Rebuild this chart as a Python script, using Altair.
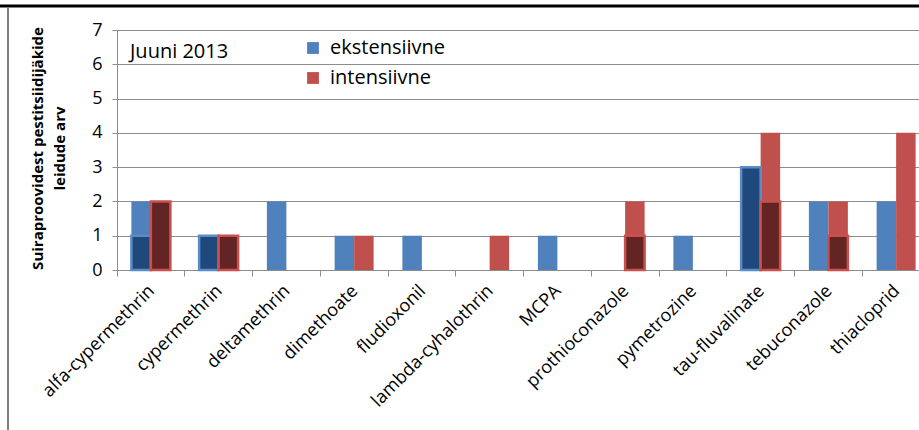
import altair as alt
import pandas as pd

categories = ["alfa-cypermethrin", "cypermethrin", "deltamethrin", "dimethoate", "fludioxonil",
              "lambda-cyhalothrin", "MCPA", "prothioconazole", "pymetrozine", "tau-fluvalinate",
              "tebuconazole", "thiacloprid"]
series = ["ekstensiivne", "intensiivne"]
ekstensiivne = [2, 1, 2, 1, 1, 0, 1, 0, 1, 3, 2, 2]
intensiivne = [2, 1, 0, 1, 0, 1, 0, 2, 0, 4, 2, 4]
# highlighted (dark) sub-counts
ekstensiivne_dark = [1, 1, 0, 0, 0, 0, 0, 0, 0, 3, 0, 0]
intensiivne_dark = [2, 1, 0, 0, 0, 0, 0, 1, 0, 2, 1, 0]

rows = []
for i, c in enumerate(categories):
    rows.append({"cat": c, "series": series[0], "value": ekstensiivne[i], "dark": ekstensiivne_dark[i]})
    rows.append({"cat": c, "series": series[1], "value": intensiivne[i], "dark": intensiivne_dark[i]})
df = pd.DataFrame(rows)
one = pd.DataFrame({"k": [0]})

FONT = "Open Sans"
GRID = "#8c8c8c"
YTITLE = ["Suiraproovidest pestitsiidijäkide", "leidude arv"]

x_axis = alt.Axis(labelAngle=-45, labelAlign="right", labelBaseline="middle",
                  labelFontSize=18, labelFont=FONT, labelColor="#000000",
                  labelPadding=12, labelOffset=1, bandPosition=0, tickSize=6,
                  tickColor=GRID, domainColor=GRID, grid=False, labelOverlap=False)
x_scale = alt.Scale(range=[0, 813], paddingInner=0, paddingOuter=0)
y_axis = alt.Axis(values=[0, 1, 2, 3, 4, 5, 6, 7], format="d", grid=True,
                  gridColor=GRID, gridWidth=1, domainColor=GRID, tickColor=GRID,
                  tickSize=5, labelFontSize=18, labelFont=FONT, labelColor="#000000",
                  labelPadding=10, labelOverlap=False, titleFont=FONT, titleFontSize=15,
                  titleFontWeight="bold", titleColor="#000000", titleX=-80,
                  titleY=118, titleLineHeight=22, titleBaseline="middle")
y_scale = alt.Scale(domain=[0, 7], nice=False)
off_scale = alt.Scale(paddingOuter=0.737, paddingInner=0)

bars = alt.Chart(df).mark_bar().encode(
    x=alt.X("cat:N", sort=categories, title=None, scale=x_scale, axis=x_axis),
    xOffset=alt.XOffset("series:N", sort=series, scale=off_scale),
    y=alt.Y("value:Q", title=YTITLE, scale=y_scale, axis=y_axis),
    color=alt.Color("series:N", sort=series, title=None,
                    scale=alt.Scale(domain=series, range=["#4F81BD", "#C0504D"]),
                    legend=alt.Legend(orient="none", legendX=186, legendY=8,
                                      symbolType="square", symbolSize=140,
                                      symbolStrokeWidth=0, labelFontSize=20,
                                      labelFont=FONT, labelColor="#000000",
                                      rowPadding=10, symbolOffset=0, labelOffset=7)),
)

dark = alt.Chart(df).transform_filter("datum.dark > 0").mark_bar(strokeWidth=2.5).encode(
    x=alt.X("cat:N", sort=categories, title=None, scale=x_scale, axis=x_axis),
    xOffset=alt.XOffset("series:N", sort=series, scale=off_scale),
    y=alt.Y("dark:Q", title=YTITLE, scale=y_scale, axis=y_axis),
    fill=alt.Fill("series:N", scale=alt.Scale(domain=series, range=["#1F497D", "#632523"]),
                  legend=None),
    stroke=alt.Stroke("series:N", scale=alt.Scale(domain=series, range=["#5B8CC8", "#C9504C"]),
                      legend=None),
)

label = alt.Chart(one).mark_text(text="Juuni 2013", align="left", baseline="middle",
                                 fontSize=20, font=FONT, color="#000000").encode(
    x=alt.value(13), y=alt.value(22))

top_line = alt.Chart(one).mark_rule(color="#000000", strokeWidth=3).encode(
    x=alt.value(-117), x2=alt.value(802), y=alt.value(-24))
left_line = alt.Chart(one).mark_rule(color="#808080", strokeWidth=2).encode(
    x=alt.value(-109), y=alt.value(-23), y2=alt.value(400))

chart = alt.layer(bars, dark, label, top_line, left_line).resolve_scale(
    fill="independent", stroke="independent"
).properties(
    width=802, height=240,
    autosize=alt.AutoSizeParams(type="none"),
    padding={"left": 117, "top": 30, "right": 0, "bottom": 160},
    background="#ffffff",
).configure_view(stroke=None)

chart.save("out.html", embed_options={"renderer": "svg", "actions": False})
